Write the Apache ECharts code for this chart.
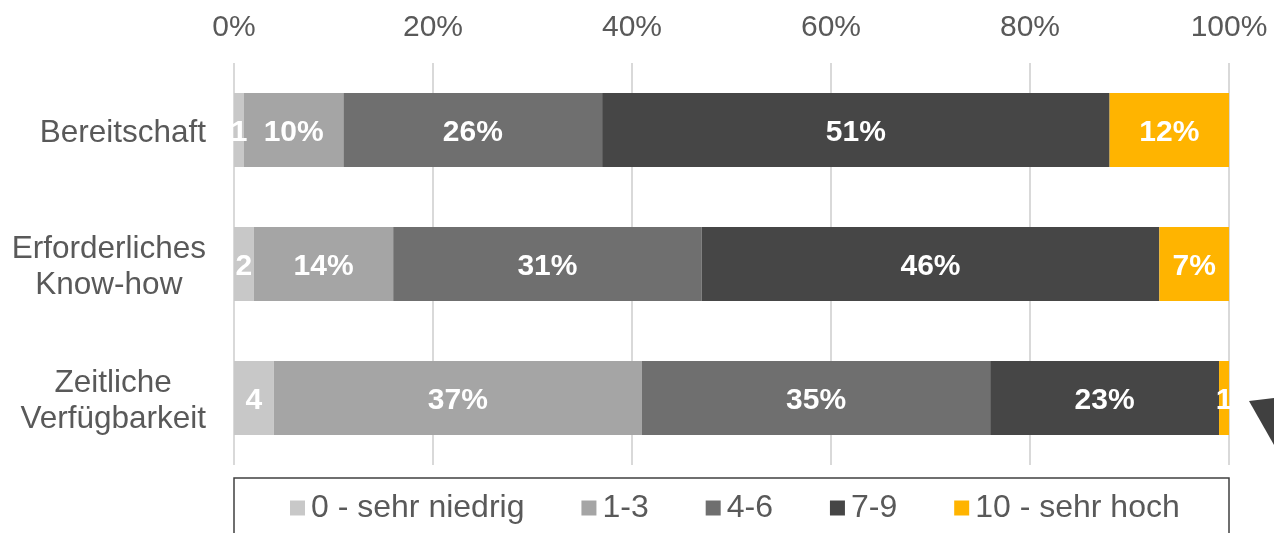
<!DOCTYPE html>
<html>
<head>
<meta charset="utf-8">
<script src="https://cdn.jsdelivr.net/npm/echarts@6/dist/echarts.min.js"></script>
<style>
  html, body { margin: 0; padding: 0; background: #ffffff; }
  #chart { width: 1274px; height: 533px; }
</style>
</head>
<body>
<div id="chart"></div>
<script>
// Categories (top to bottom)
const categories = ['Bereitschaft', 'Erforderliches\nKnow-how', 'Zeitliche\nVerfügbarkeit'];

// Share of answers per rating band, in percent
const seriesNames = ['0 - sehr niedrig', '1-3', '4-6', '7-9', '10 - sehr hoch'];
const sehrNiedrig = [1, 2, 4];
const band1to3   = [10, 14, 37];
const band4to6   = [26, 31, 35];
const band7to9   = [51, 46, 23];
const sehrHoch   = [12, 7, 1];

const tickValues = [0, 20, 40, 60, 80, 100];

const colors = ['#c8c8c8', '#a5a5a5', '#6f6f6f', '#464646', '#ffb400'];
const FONT = "'Liberation Sans', Arial, sans-serif";
const TEXT = '#595959';

const seriesData = [sehrNiedrig, band1to3, band4to6, band7to9, sehrHoch];

const chart = echarts.init(document.getElementById('chart'), null, { renderer: 'canvas' });

chart.setOption({
  animation: false,
  backgroundColor: '#ffffff',
  textStyle: { fontFamily: FONT },
  grid: { left: 234, right: 45, top: 63, bottom: 68, containLabel: false },
  xAxis: {
    type: 'value',
    position: 'top',
    min: tickValues[0],
    max: tickValues[tickValues.length - 1],
    interval: tickValues[1] - tickValues[0],
    axisLine: { show: false },
    axisTick: { show: false },
    axisLabel: {
      formatter: '{value}%',
      fontSize: 30,
      color: TEXT,
      fontFamily: FONT,
      margin: 20
    },
    splitLine: { show: true, lineStyle: { color: '#d9d9d9', width: 2 } }
  },
  yAxis: {
    type: 'category',
    inverse: true,
    data: categories,
    axisLine: { show: false },
    axisTick: { show: false },
    axisLabel: {
      margin: 28,
      align: 'right',
      padding: [6, 0, 0, 0],
      formatter: v => v.split('\n').map(l => '{c|' + l + '}').join('\n'),
      rich: {
        c: { align: 'center', fontSize: 31.5, lineHeight: 36, color: TEXT, fontFamily: FONT }
      }
    }
  },
  legend: {
    data: seriesNames,
    left: 285,
    top: 487,
    itemWidth: 15,
    itemHeight: 15,
    itemGap: 57,
    icon: 'rect',
    textStyle: { fontSize: 32, color: TEXT, fontFamily: FONT, padding: [0, 0, 0, 1] }
  },
  graphic: [
    {
      type: 'rect',
      shape: { x: 234, y: 478, width: 995, height: 80 },
      style: { fill: 'none', stroke: '#404040', lineWidth: 1.5 },
      silent: true
    },
    {
      type: 'polygon',
      shape: { points: [[1249, 401], [1274, 398], [1274, 445]] },
      style: { fill: '#404040' },
      silent: true
    }
  ],
  series: seriesNames.map((name, i) => ({
    name: name,
    type: 'bar',
    stack: 'total',
    barWidth: 74,
    data: seriesData[i],
    itemStyle: { color: colors[i] },
    label: {
      show: true,
      position: 'inside',
      offset: [0, 3],
      color: '#ffffff',
      fontSize: 30,
      fontWeight: 'bold',
      fontFamily: FONT,
      formatter: p => (p.value < 5 ? String(p.value) : p.value + '%')
    }
  }))
});
</script>
</body>
</html>
